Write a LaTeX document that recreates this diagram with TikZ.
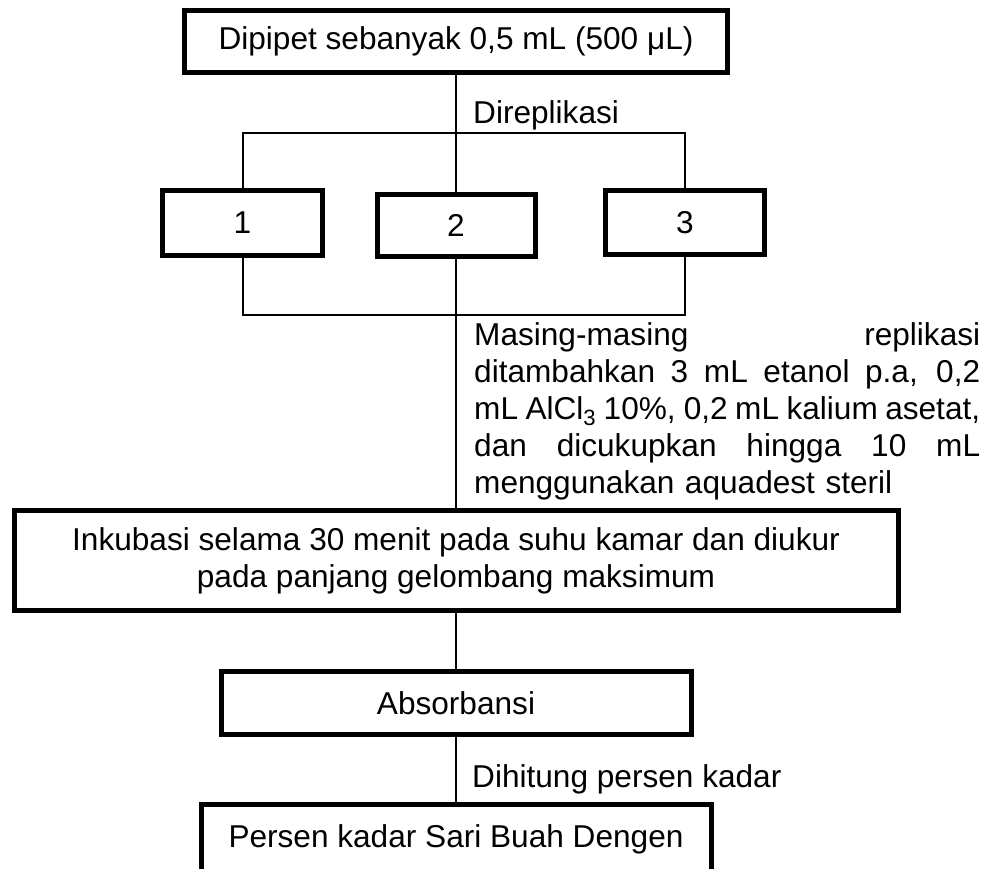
\documentclass[tikz,border=0pt]{standalone}
\usepackage{fontspec}
\setmainfont{Liberation Sans}
\usepackage{tikz}
\tikzset{flow box/.style={draw, line width=5pt, inner sep=4pt}}
\tikzset{flow line/.style={line width=2pt}}
\tikzset{flow text/.style={font=\fontsize{31.6}{37}\selectfont}}
\newcommand{\spreadline}[1]{\leavevmode\hbox to 506pt{\spaceskip=0.15em plus 1fil\relax #1}}

\begin{document}
\begin{tikzpicture}[x=1pt, y=-1pt, every node/.style={flow text}]

% Fix the frame of the picture
\useasboundingbox (0,0) rectangle (992,868);
\clip (0,0) rectangle (992,868);

% Draw the top box
\node[flow box, minimum width=543pt, minimum height=62pt] (pipet) at (456,41.5) {Dipipet sebanyak 0,5 mL (500 μL)};

% Draw the three replicate boxes
\node[flow box, minimum width=160pt, minimum height=65pt] (rep1) at (242.5,223) {1};
\node[flow box, minimum width=158pt, minimum height=62pt] (rep2) at (456,225.5) {2};
\node[flow box, minimum width=159pt, minimum height=64pt] (rep3) at (685,222.5) {3};

% Draw the wide box, the absorbance box and the last box
\node[flow box, minimum width=884pt, minimum height=100pt, align=center] (inkubasi) at (456,560.5) {Inkubasi selama 30 menit pada suhu kamar dan diukur\\pada panjang gelombang maksimum};
\node[flow box, minimum width=470pt, minimum height=63pt] (absorbansi) at (456,703) {Absorbansi};
\node[flow box, minimum width=510pt, minimum height=70pt] (persen) at (456,839) {Persen kadar Sari Buah Dengen};

% Split the sample into three replicates
\coordinate (split) at (456,133);
\draw[flow line] (pipet.south) -- (rep2.north);
\draw[flow line] (rep1.north) |- (split) -| (rep3.north);
\node[anchor=base west, inner sep=0pt] (splitlabel) at (473,123) {Direplikasi};

% Join the replicates again
\coordinate (join) at (456,315);
\draw[flow line] (rep1.south) |- (join) -| (rep3.south);
\draw[flow line] (rep2.south) -- (inkubasi.north);
\node[anchor=north west, inner sep=0pt, text width=506pt, align=left] (joinlabel) at (474,322) {%
\spreadline{Masing-masing replikasi}\\
\spreadline{ditambahkan 3 mL etanol p.a, 0,2}\\
\spreadline{mL AlCl\textsubscript{3} 10\%, 0,2 mL kalium asetat,}\\
\spreadline{dan dicukupkan hingga 10 mL}\\
menggunakan aquadest steril};

% Draw the lower connectors
\draw[flow line] (inkubasi.south) -- (absorbansi.north);
\draw[flow line] (absorbansi.south) -- (persen.north);
\node[anchor=base west, inner sep=0pt] (countlabel) at (472,787) {Dihitung persen kadar};

\end{tikzpicture}
\end{document}
